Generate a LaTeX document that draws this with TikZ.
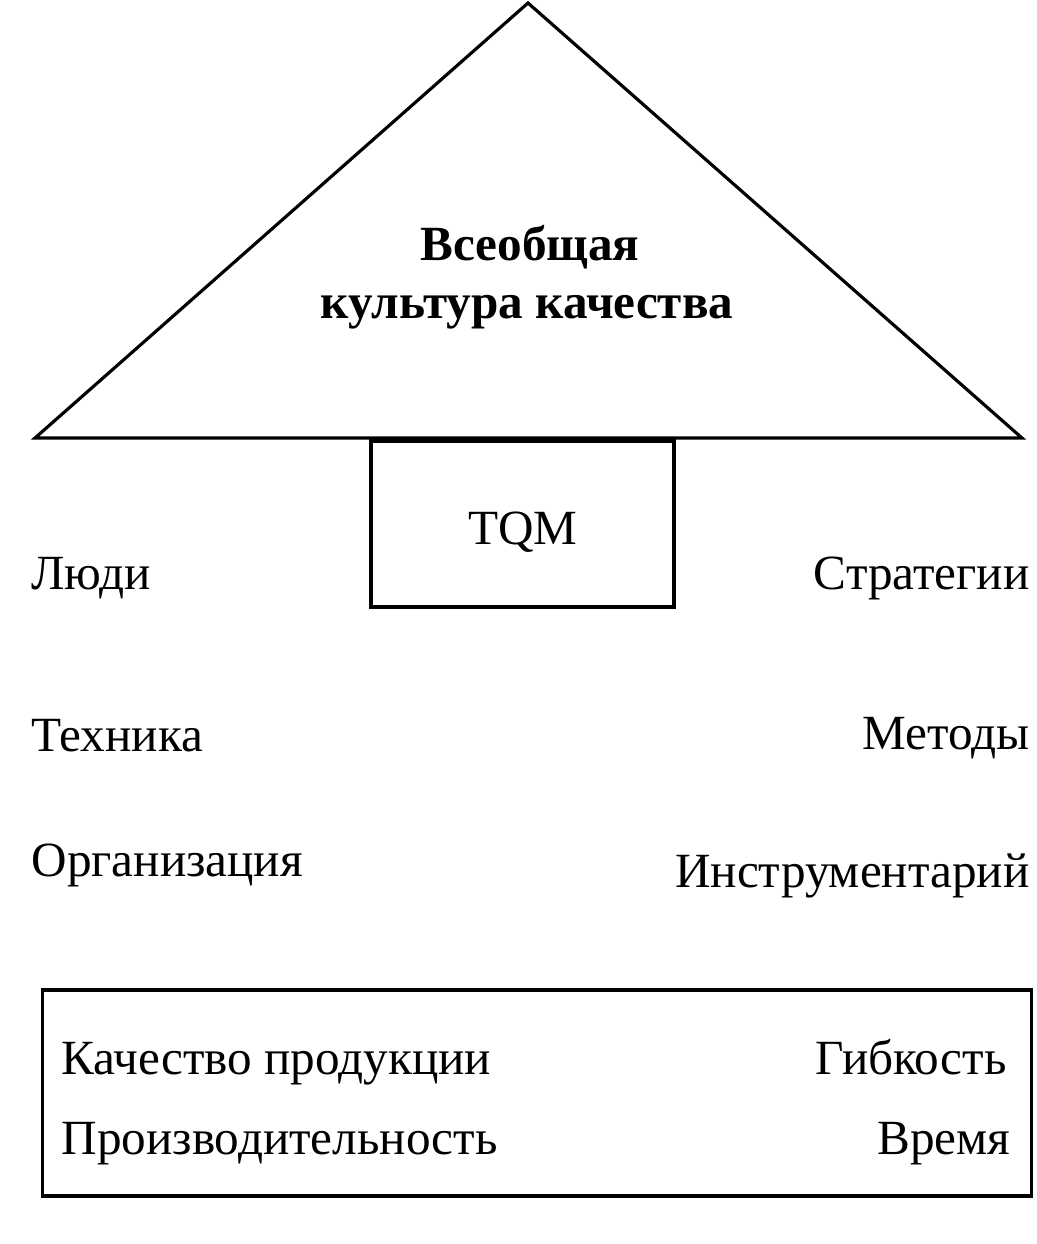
\documentclass[tikz,border=0pt]{standalone}
\usepackage{fontspec}
\setmainfont{Liberation Serif}
\usepackage{tikz}
\usetikzlibrary{positioning}

\begin{document}
\begin{tikzpicture} [x = 0.02cm, y = -0.02cm,
          line width = 1.8pt,
          lbl/.style = {font = \fontsize{28}{34}\selectfont, inner sep = 0pt},
          ttl/.style = {font = \fontsize{28}{34}\selectfont\bfseries, inner sep = 0pt, anchor = base},
          boxed/.style = {draw, inner sep = 0pt}
          ]
          \useasboundingbox (0,0) rectangle (1036,1244);

          % Roof
          \coordinate (apex) at (528,3);
          \coordinate (eaveL) at (35,438);
          \coordinate (eaveR) at (1022,438);
          \draw[line join = miter] (eaveL) -- (apex) -- (eaveR) -- cycle;
          \node (title) [ttl] at (530,260) {Всеобщая};
          \node (subtitle) [ttl] at (527,318) {культура качества};

          % Core
          \node (tqm) [boxed, minimum width = 6.06cm, minimum height = 3.32cm] at (522.5,524) {};
          \node (tqmtxt) [lbl, anchor = base] at (523,544) {TQM};

          % Left side
          \node (people) [lbl, anchor = base west] at (30,589) {Люди};
          \node (tech) [lbl, anchor = base west] at (30,751) {Техника};
          \node (org) [lbl, anchor = base west] at (30,876) {Организация};

          % Right side
          \node (strat) [lbl, anchor = base east] at (1031,589) {Стратегии};
          \node (meth) [lbl, anchor = base east] at (1031,749) {Методы};
          \node (tools) [lbl, anchor = base east] at (1031,887) {Инструментарий};

          % Base
          \node (base) [boxed, minimum width = 19.8cm, minimum height = 4.12cm] at (537,1093) {};
          \node (qual) [lbl, anchor = base west] at (60,1074) {Качество продукции};
          \node (prod) [lbl, anchor = base west] at (60,1154) {Производительность};
          \node (flex) [lbl, anchor = base east] at (1008,1074) {Гибкость};
          \node (time) [lbl, anchor = base east] at (1012,1154) {Время};

        \end{tikzpicture}
\end{document}
